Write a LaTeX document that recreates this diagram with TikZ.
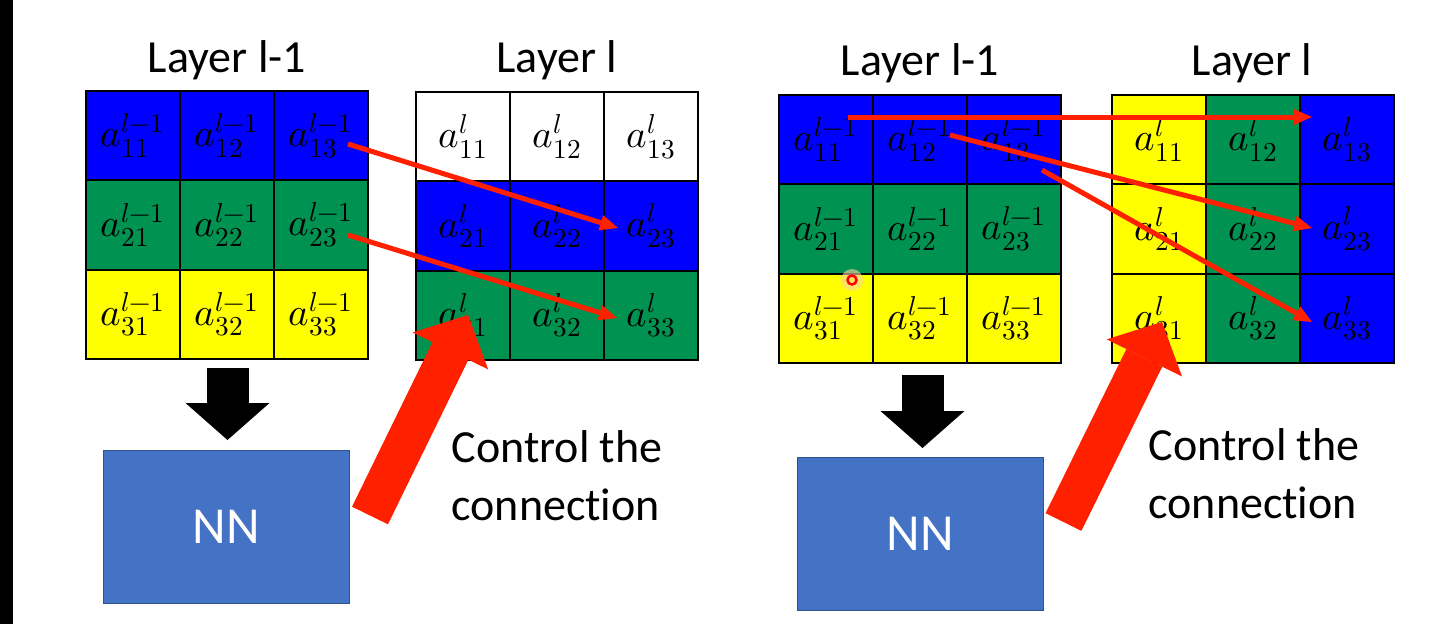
\documentclass[tikz,border=0pt]{standalone}
\usepackage{fontspec}
\usepackage{unicode-math}
\setmainfont{Carlito}[Ligatures=NoCommon]
\setmathfont{Latin Modern Math}
\usetikzlibrary{arrows.meta,calc}
\definecolor{cblue}{RGB}{0,0,255}
\definecolor{cgreen}{RGB}{0,146,80}
\definecolor{cyellow}{RGB}{255,255,0}
\definecolor{nnblue}{RGB}{68,114,196}
\definecolor{nnedge}{RGB}{47,82,143}
\definecolor{ared}{RGB}{255,32,0}
\tikzset{
 cell/.style={draw=black, line width=1.8pt, minimum width=94pt, minimum height=89.3pt, inner sep=0pt, font=\fontsize{39}{44}\selectfont},
 title/.style={anchor=base, font=\fontsize{46}{55}\selectfont},
 nnbox/.style={fill=nnblue, draw=nnedge, line width=1pt, minimum width=246pt, minimum height=153pt, text=white, font=\fontsize{52}{60}\selectfont},
 ctrl/.style={anchor=base west, align=left, font=\fontsize{46}{58}\selectfont},
 thinarrow/.style={draw=ared, line width=5pt, -{Triangle[length=18pt,width=16pt,line width=0pt]}},
 bigred/.style={draw=ared, line width=40pt, -{Triangle[length=40pt,width=84pt,line width=0pt]}},
 bigblack/.style={draw=black, line width=42pt, -{Triangle[length=37pt,width=84pt,line width=0pt]}},
}
\begin{document}
\begin{tikzpicture}[x=1pt,y=-1pt]
\useasboundingbox (0,0) rectangle (1436,624);
\fill[white] (0,0) rectangle (1436,624);
\fill[black] (0,0) rectangle (13,624);
% titles
\node[title] (T1) at (227,72) {Layer l-1};
\node[title] (T2) at (557,72) {Layer l};
\node[title] (T3) at (920,75) {Layer l-1};
\node[title] (T4) at (1252,75) {Layer l};
% grid 1
\foreach \r/\cl in {1/cblue,2/cgreen,3/cyellow}{
 \foreach \c in {1,2,3}{
  \node[cell, fill=\cl] (A\r\c) at ({133+94*(\c-1)}, {135.65+89.3*(\r-1)}) {$a^{l-1}_{\r\c}$};
 }}
% grid 2
\foreach \r/\cl in {1/white,2/cblue,3/cgreen}{
 \foreach \c in {1,2,3}{
  \node[cell, fill=\cl] (B\r\c) at ({463+94*(\c-1)}, {136.65+89.3*(\r-1)}) {$a^{l}_{\r\c}$};
 }}
% grid 3
\foreach \r/\cl in {1/cblue,2/cgreen,3/cyellow}{
 \foreach \c in {1,2,3}{
  \node[cell, fill=\cl] (C\r\c) at ({826+94*(\c-1)}, {139.65+89.3*(\r-1)}) {$a^{l-1}_{\r\c}$};
 }}
% grid 4
\foreach \r in {1,2,3}{
 \foreach \c/\cl in {1/cyellow,2/cgreen,3/cblue}{
  \node[cell, fill=\cl] (D\r\c) at ({1159+94*(\c-1)}, {139.65+89.3*(\r-1)}) {$a^{l}_{\r\c}$};
 }}
% NN boxes
\node[nnbox] (N1) at (226,526.5) {NN};
\node[nnbox] (N2) at (920.5,533.5) {NN};
% texts (anchor = baseline of the last line)
\node[ctrl] (X1) at (448,520) {Control the\\connection};
\node[ctrl] (X2) at (1145,518) {Control the\\connection};
% black arrows
\coordinate (k1s) at (227.5,368);
\coordinate (k1e) at (227.5,440);
\coordinate (k2s) at (922.5,375);
\coordinate (k2e) at (922.5,448);
\draw[bigblack] (k1s) -- (k1e);
\draw[bigblack] (k2s) -- (k2e);
% thin red arrows, left
\coordinate (s1) at (348,144);
\coordinate (e1) at (618,228);
\coordinate (s2) at (348,235);
\coordinate (e2) at (617,318);
\draw[thinarrow] (s1) -- (e1);
\draw[thinarrow] (s2) -- (e2);
% thin red arrows, right
\coordinate (s3) at (848,117);
\coordinate (e3) at (1312,117);
\coordinate (s4) at (950,135);
\coordinate (e4) at (1312,228);
\coordinate (s5) at (1042,170);
\coordinate (e5) at (1312,322);
\draw[thinarrow] (s3) -- (e3);
\draw[thinarrow] (s4) -- (e4);
\draw[thinarrow] (s5) -- (e5);
% big red arrows
\coordinate (t1) at (370,515.5);
\coordinate (h1) at (468,315);
\coordinate (t2) at (1063.5,522);
\coordinate (h2) at (1162,322);
\draw[bigred] (t1) -- (h1);
\draw[bigred] (t2) -- (h2);
% laser pointer mark
\fill[orange!35, opacity=0.6] (852,280) circle[radius=11pt];
\draw[red, line width=2.5pt] (852,280) circle[radius=4.5pt];
\end{tikzpicture}
\end{document}
